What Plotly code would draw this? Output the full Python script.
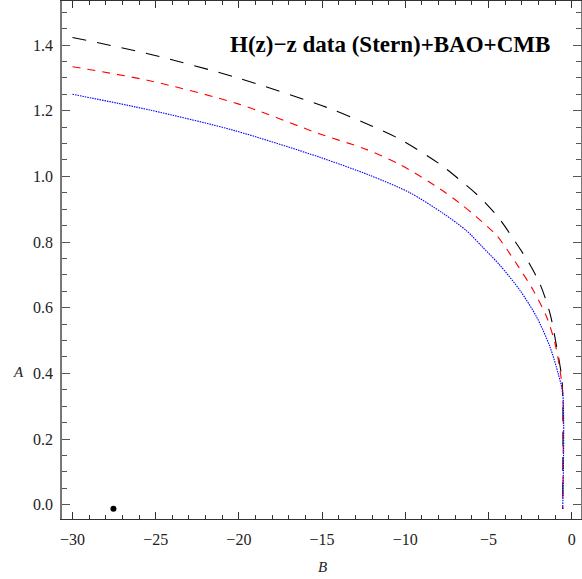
import plotly.graph_objects as go

# Data
black_B = [-30.0, -25.35, -20.14, -14.73, -12.5, -10.32, -7.92, -6.72, -5.51, -4.41, -3.51, -2.61, -1.91, -1.30, -0.90, -0.60, -0.54, -0.54]
black_A = [1.423, 1.372, 1.301, 1.210, 1.164, 1.113, 1.037, 0.989, 0.936, 0.875, 0.810, 0.740, 0.673, 0.582, 0.480, 0.389, 0.339, -0.013]

red_B = [-30.0, -25.35, -20.0, -15.13, -12.5, -10.32, -7.92, -6.72, -5.71, -4.51, -3.71, -3.2, -2.31, -1.50, -1.00, -0.70, -0.54, -0.54]
red_A = [1.334, 1.291, 1.220, 1.129, 1.085, 1.036, 0.962, 0.918, 0.876, 0.820, 0.764, 0.725, 0.653, 0.571, 0.491, 0.409, 0.339, -0.013]

blue_B = [-30.0, -25.35, -20.3, -15.13, -12.13, -9.72, -7.72, -6.31, -5.4, -4.31, -3.11, -2.10, -1.30, -0.81, -0.54, -0.54]
blue_A = [1.250, 1.202, 1.140, 1.058, 1.003, 0.950, 0.887, 0.834, 0.787, 0.729, 0.653, 0.571, 0.480, 0.399, 0.339, -0.013]

point_B = [-27.54]
point_A = [-0.012]

title_text = "H(z)\u2212z data (Stern)+BAO+CMB"
x_ticks = [-30, -25, -20, -15, -10, -5, 0]
x_ticklabels = ["\u221230", "\u221225", "\u221220", "\u221215", "\u221210", "\u22125", "0"]
y_ticks = [0.0, 0.2, 0.4, 0.6, 0.8, 1.0, 1.2, 1.4]
y_ticklabels = ["0.0", "0.2", "0.4", "0.6", "0.8", "1.0", "1.2", "1.4"]

FONT = "Liberation Serif"

fig = go.Figure()
fig.add_trace(go.Scatter(x=black_B, y=black_A, mode="lines",
                         line=dict(color="black", width=1.1, dash="14px,11px", shape="spline", smoothing=0.8),
                         showlegend=False))
fig.add_trace(go.Scatter(x=red_B, y=red_A, mode="lines",
                         line=dict(color="#ff0000", width=1.1, dash="8px,7px", shape="spline", smoothing=0.8),
                         showlegend=False))
fig.add_trace(go.Scatter(x=blue_B, y=blue_A, mode="lines",
                         line=dict(color="#0000ff", width=1.1, dash="1.5px,1px", shape="spline", smoothing=0.8),
                         showlegend=False))
fig.add_trace(go.Scatter(x=point_B, y=point_A, mode="markers",
                         marker=dict(color="black", size=6),
                         showlegend=False))

plot_w = 582 - 62 - 1
plot_h = 579 - 1 - 60

fig.update_layout(
    width=582, height=579,
    margin=dict(l=62, r=1, t=1, b=60, autoexpand=False),
    paper_bgcolor="white", plot_bgcolor="white",
    font=dict(family=FONT, size=15, color="#222"),
    xaxis=dict(range=[-30.63, 0.56], tickvals=x_ticks, ticktext=x_ticklabels,
               automargin=False,
               tickfont=dict(family=FONT, size=16, color="#222"),
               ticks="inside", ticklen=7, tickwidth=1, tickcolor="#333",
               showline=True, linecolor="#333", linewidth=1.3, mirror="ticks",
               showgrid=False, zeroline=False, ticklabelstandoff=6,
               minor=dict(dtick=1, tick0=0, ticks="inside", ticklen=4, tickcolor="#333", showgrid=False)),
    yaxis=dict(range=[-0.0435, 1.534], tickvals=y_ticks, ticktext=y_ticklabels,
               automargin=False,
               tickfont=dict(family=FONT, size=16, color="#222"),
               ticks="inside", ticklen=8, tickwidth=1, tickcolor="#555",
               showline=True, linecolor="#777", linewidth=1.5, mirror="ticks",
               showgrid=False, zeroline=False, ticklabelstandoff=4,
               minor=dict(dtick=0.05, tick0=0, ticks="inside", ticklen=5, tickcolor="#555", showgrid=False)),
    annotations=[
        dict(text="<b>" + title_text + "</b>", x=-1.18, y=1.403, xref="x", yref="y",
             xanchor="right", yanchor="middle", showarrow=False,
             font=dict(family=FONT, size=23, color="black")),
        dict(text="<i>B</i>", x=(322 - 62) / plot_w, y=-(567 - 519) / plot_h,
             xref="paper", yref="paper", xanchor="center", yanchor="middle", showarrow=False,
             font=dict(family=FONT, size=15, color="#222")),
        dict(text="<i>A</i>", x=(18 - 62) / plot_w, y=(519 - 372) / plot_h,
             xref="paper", yref="paper", xanchor="center", yanchor="middle", showarrow=False,
             font=dict(family=FONT, size=15, color="#222")),
    ],
)

fig.write_html("out.html", config={"displayModeBar": False},
               post_script="document.body.style.margin='0';document.body.style.padding='0';")
